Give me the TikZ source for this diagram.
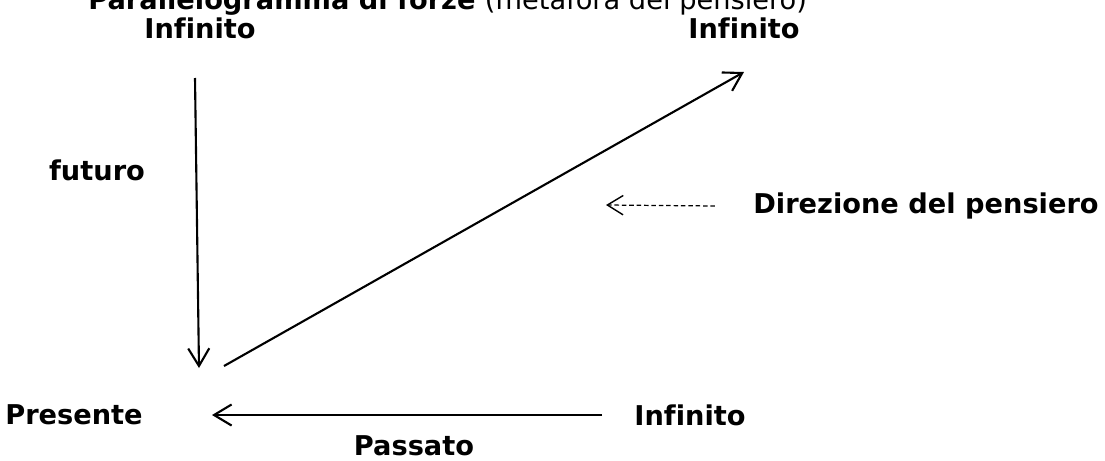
\documentclass[tikz,border=0pt]{standalone}
\usepackage{fontspec}
\setmainfont[Ligatures=NoCommon]{DejaVu Sans}
\usetikzlibrary{arrows.meta}

\tikzset{
  lbl/.style={font=\fontsize{15.5}{18}\selectfont\bfseries, inner sep=0pt},
  force/.style={line width=1.2pt, -{Straight Barb[length=10pt, width=12pt, line width=1.2pt]}},
  thought/.style={line width=0.7pt, dash pattern=on 2.6pt off 1.6pt,
    -{Straight Barb[length=9pt, width=11pt, line width=0.8pt]}}
}

\begin{document}
\begin{tikzpicture}[x=0.02cm, y=-0.02cm]
  \useasboundingbox (0,0) rectangle (1105,460);

  % --- Title (cut at the top) ---
  \node[lbl, anchor=base west] (title) at (88,9)
    {Parallelogramma di forze \mdseries(metafora del pensiero)};

  % --- Labels ---
  \node[lbl] (inftop) at (200,28) {Infinito};
  \node[lbl] (infright) at (744,28) {Infinito};
  \node[lbl] (futuro) at (97,170) {futuro};
  \node[lbl] (direz) at (926,206) {Direzione del pensiero};
  \node[lbl] (presente) at (74,415) {Presente};
  \node[lbl] (infbottom) at (690,415) {Infinito};
  \node[lbl] (passato) at (414,446) {Passato};

  % --- Free ends of the forces ---
  \coordinate (vtop) at (195,78);
  \coordinate (vbot) at (199,368);
  \coordinate (dstart) at (224,366);
  \coordinate (dend) at (744,72);
  \coordinate (hend) at (212,415);
  \coordinate (tend) at (606,205);

  % --- Forces ---
  \draw[force] (vtop) -- (vbot);
  \draw[force] (dstart) -- (dend);
  \draw[force] (infbottom.west) ++(-32,0) -- (hend);
  \draw[thought] (direz.west) ++(-38,0) -- (tend);
\end{tikzpicture}
\end{document}
